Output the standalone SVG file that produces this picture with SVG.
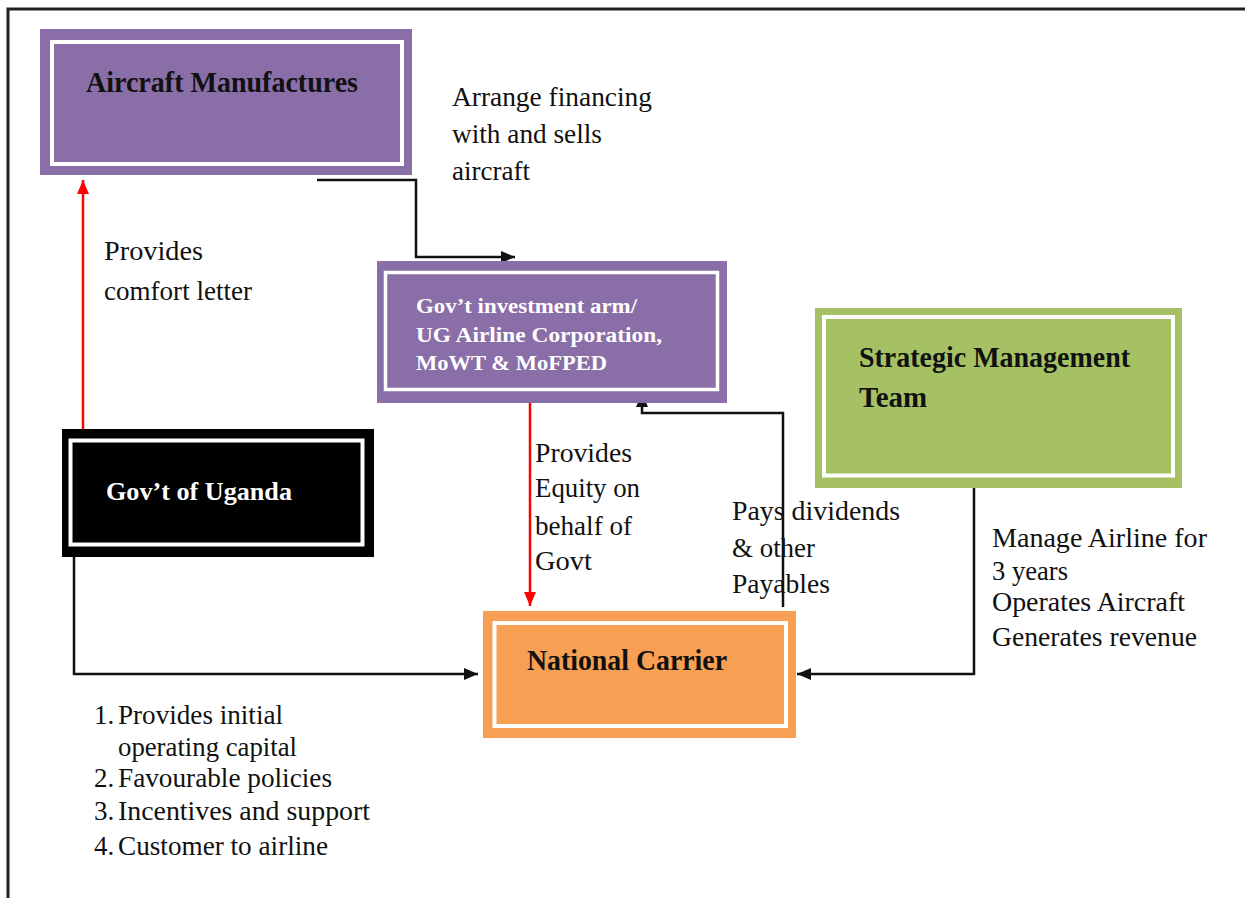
<svg xmlns="http://www.w3.org/2000/svg" width="1245" height="898" viewBox="0 0 1245 898">
<defs>
<style>
.frame{fill:none;stroke:#222;stroke-width:3}
.band{fill:none;stroke:#fff;stroke-width:4}
.bt{font-family:"Liberation Serif","Times New Roman",serif;font-weight:bold;font-size:30px;fill:#111}
.wt{font-family:"Liberation Serif","Times New Roman",serif;font-weight:bold;fill:#fff}
.lb{font-family:"Liberation Serif","Times New Roman",serif;font-size:27px;fill:#111}
.blk{fill:none;stroke:#111;stroke-width:2.5}
.red{fill:none;stroke:#ff0000;stroke-width:2.5}
</style>
<marker id="ab" markerUnits="userSpaceOnUse" markerWidth="16" markerHeight="14" refX="14" refY="6" orient="auto">
<path d="M0,0 L14,6 L0,12 Z" fill="#111"/>
</marker>
<marker id="ar" markerUnits="userSpaceOnUse" markerWidth="16" markerHeight="14" refX="14" refY="6" orient="auto">
<path d="M0,0 L14,6 L0,12 Z" fill="#ff0000"/>
</marker>
</defs>
<rect width="1245" height="898" fill="#fff"/>
<path class="frame" d="M8,898 V9 H1245"/>

<g id="connectors">
<path class="blk" d="M317,180 H416 V257 H515" marker-end="url(#ab)"/>
<path class="red" d="M83,429 V180" marker-end="url(#ar)"/>
<path class="red" d="M530,403 V606" marker-end="url(#ar)"/>
<path class="blk" d="M783,607 V413 H642 V393" marker-end="url(#ab)"/>
<path class="blk" d="M974,488 V674 H797" marker-end="url(#ab)"/>
<path class="blk" d="M74,557 V674 H478" marker-end="url(#ab)"/>
</g>

<g id="aircraft-manufactures">
<rect x="40" y="29" width="372" height="146" fill="#8a6ea8"/>
<rect class="band" x="52" y="42" width="350" height="122"/>
<text class="bt" x="86" y="92" textLength="272" lengthAdjust="spacingAndGlyphs">Aircraft Manufactures</text>
</g>

<g id="govt-investment-arm">
<rect x="377" y="261" width="350" height="142" fill="#8a6ea8"/>
<rect class="band" x="385.5" y="272.5" width="332" height="117" style="stroke-width:3.5"/>
<text class="wt" font-size="22" x="416" y="313" textLength="221" lengthAdjust="spacingAndGlyphs">Gov’t investment arm/</text>
<text class="wt" font-size="22" x="416" y="342" textLength="246" lengthAdjust="spacingAndGlyphs">UG Airline Corporation,</text>
<text class="wt" font-size="22" x="416" y="370" textLength="191" lengthAdjust="spacingAndGlyphs">MoWT &amp; MoFPED</text>
</g>

<g id="strategic-management-team">
<rect x="815" y="308" width="367" height="180" fill="#a5c164"/>
<rect class="band" x="824" y="317" width="349" height="158.5"/>
<text class="bt" x="859" y="367" textLength="271" lengthAdjust="spacingAndGlyphs">Strategic Management</text>
<text class="bt" x="859" y="407" textLength="68" lengthAdjust="spacingAndGlyphs">Team</text>
</g>

<g id="govt-of-uganda">
<rect x="62" y="429" width="312" height="128" fill="#000"/>
<rect class="band" x="70.5" y="440.5" width="292" height="104"/>
<text class="wt" font-size="26" x="106" y="500" textLength="186" lengthAdjust="spacingAndGlyphs">Gov’t of Uganda</text>
</g>

<g id="national-carrier">
<rect x="483" y="611" width="313" height="127" fill="#f79f52"/>
<rect class="band" x="494.5" y="623" width="291.5" height="103"/>
<text class="bt" x="527" y="670" textLength="200" lengthAdjust="spacingAndGlyphs">National Carrier</text>
</g>

<g id="labels">
<text class="lb" x="452" y="106" textLength="200" lengthAdjust="spacingAndGlyphs">Arrange financing</text>
<text class="lb" x="452" y="143" textLength="150" lengthAdjust="spacingAndGlyphs">with and sells</text>
<text class="lb" x="452" y="180" textLength="78" lengthAdjust="spacingAndGlyphs">aircraft</text>

<text class="lb" x="104" y="260" textLength="99" lengthAdjust="spacingAndGlyphs">Provides</text>
<text class="lb" x="104" y="300" textLength="148" lengthAdjust="spacingAndGlyphs">comfort letter</text>

<text class="lb" x="535" y="462" textLength="97" lengthAdjust="spacingAndGlyphs">Provides</text>
<text class="lb" x="535" y="497" textLength="105" lengthAdjust="spacingAndGlyphs">Equity on</text>
<text class="lb" x="535" y="535" textLength="97" lengthAdjust="spacingAndGlyphs">behalf of</text>
<text class="lb" x="535" y="570" textLength="57" lengthAdjust="spacingAndGlyphs">Govt</text>

<text class="lb" x="732" y="520" textLength="168" lengthAdjust="spacingAndGlyphs">Pays dividends</text>
<text class="lb" x="732" y="557" textLength="83" lengthAdjust="spacingAndGlyphs">&amp; other</text>
<text class="lb" x="732" y="593" textLength="98" lengthAdjust="spacingAndGlyphs">Payables</text>

<text class="lb" x="992" y="547" textLength="215" lengthAdjust="spacingAndGlyphs">Manage Airline for</text>
<text class="lb" x="992" y="580" textLength="76" lengthAdjust="spacingAndGlyphs">3 years</text>
<text class="lb" x="992" y="611" textLength="193" lengthAdjust="spacingAndGlyphs">Operates Aircraft</text>
<text class="lb" x="992" y="646" textLength="205" lengthAdjust="spacingAndGlyphs">Generates revenue</text>

<text class="lb" x="94" y="724">1.</text>
<text class="lb" x="118" y="724" textLength="165" lengthAdjust="spacingAndGlyphs">Provides initial</text>
<text class="lb" x="118" y="756" textLength="179" lengthAdjust="spacingAndGlyphs">operating capital</text>
<text class="lb" x="94" y="787">2.</text>
<text class="lb" x="118" y="787" textLength="214" lengthAdjust="spacingAndGlyphs">Favourable policies</text>
<text class="lb" x="94" y="820">3.</text>
<text class="lb" x="118" y="820" textLength="252" lengthAdjust="spacingAndGlyphs">Incentives and support</text>
<text class="lb" x="94" y="855">4.</text>
<text class="lb" x="118" y="855" textLength="210" lengthAdjust="spacingAndGlyphs">Customer to airline</text>
</g>
</svg>
